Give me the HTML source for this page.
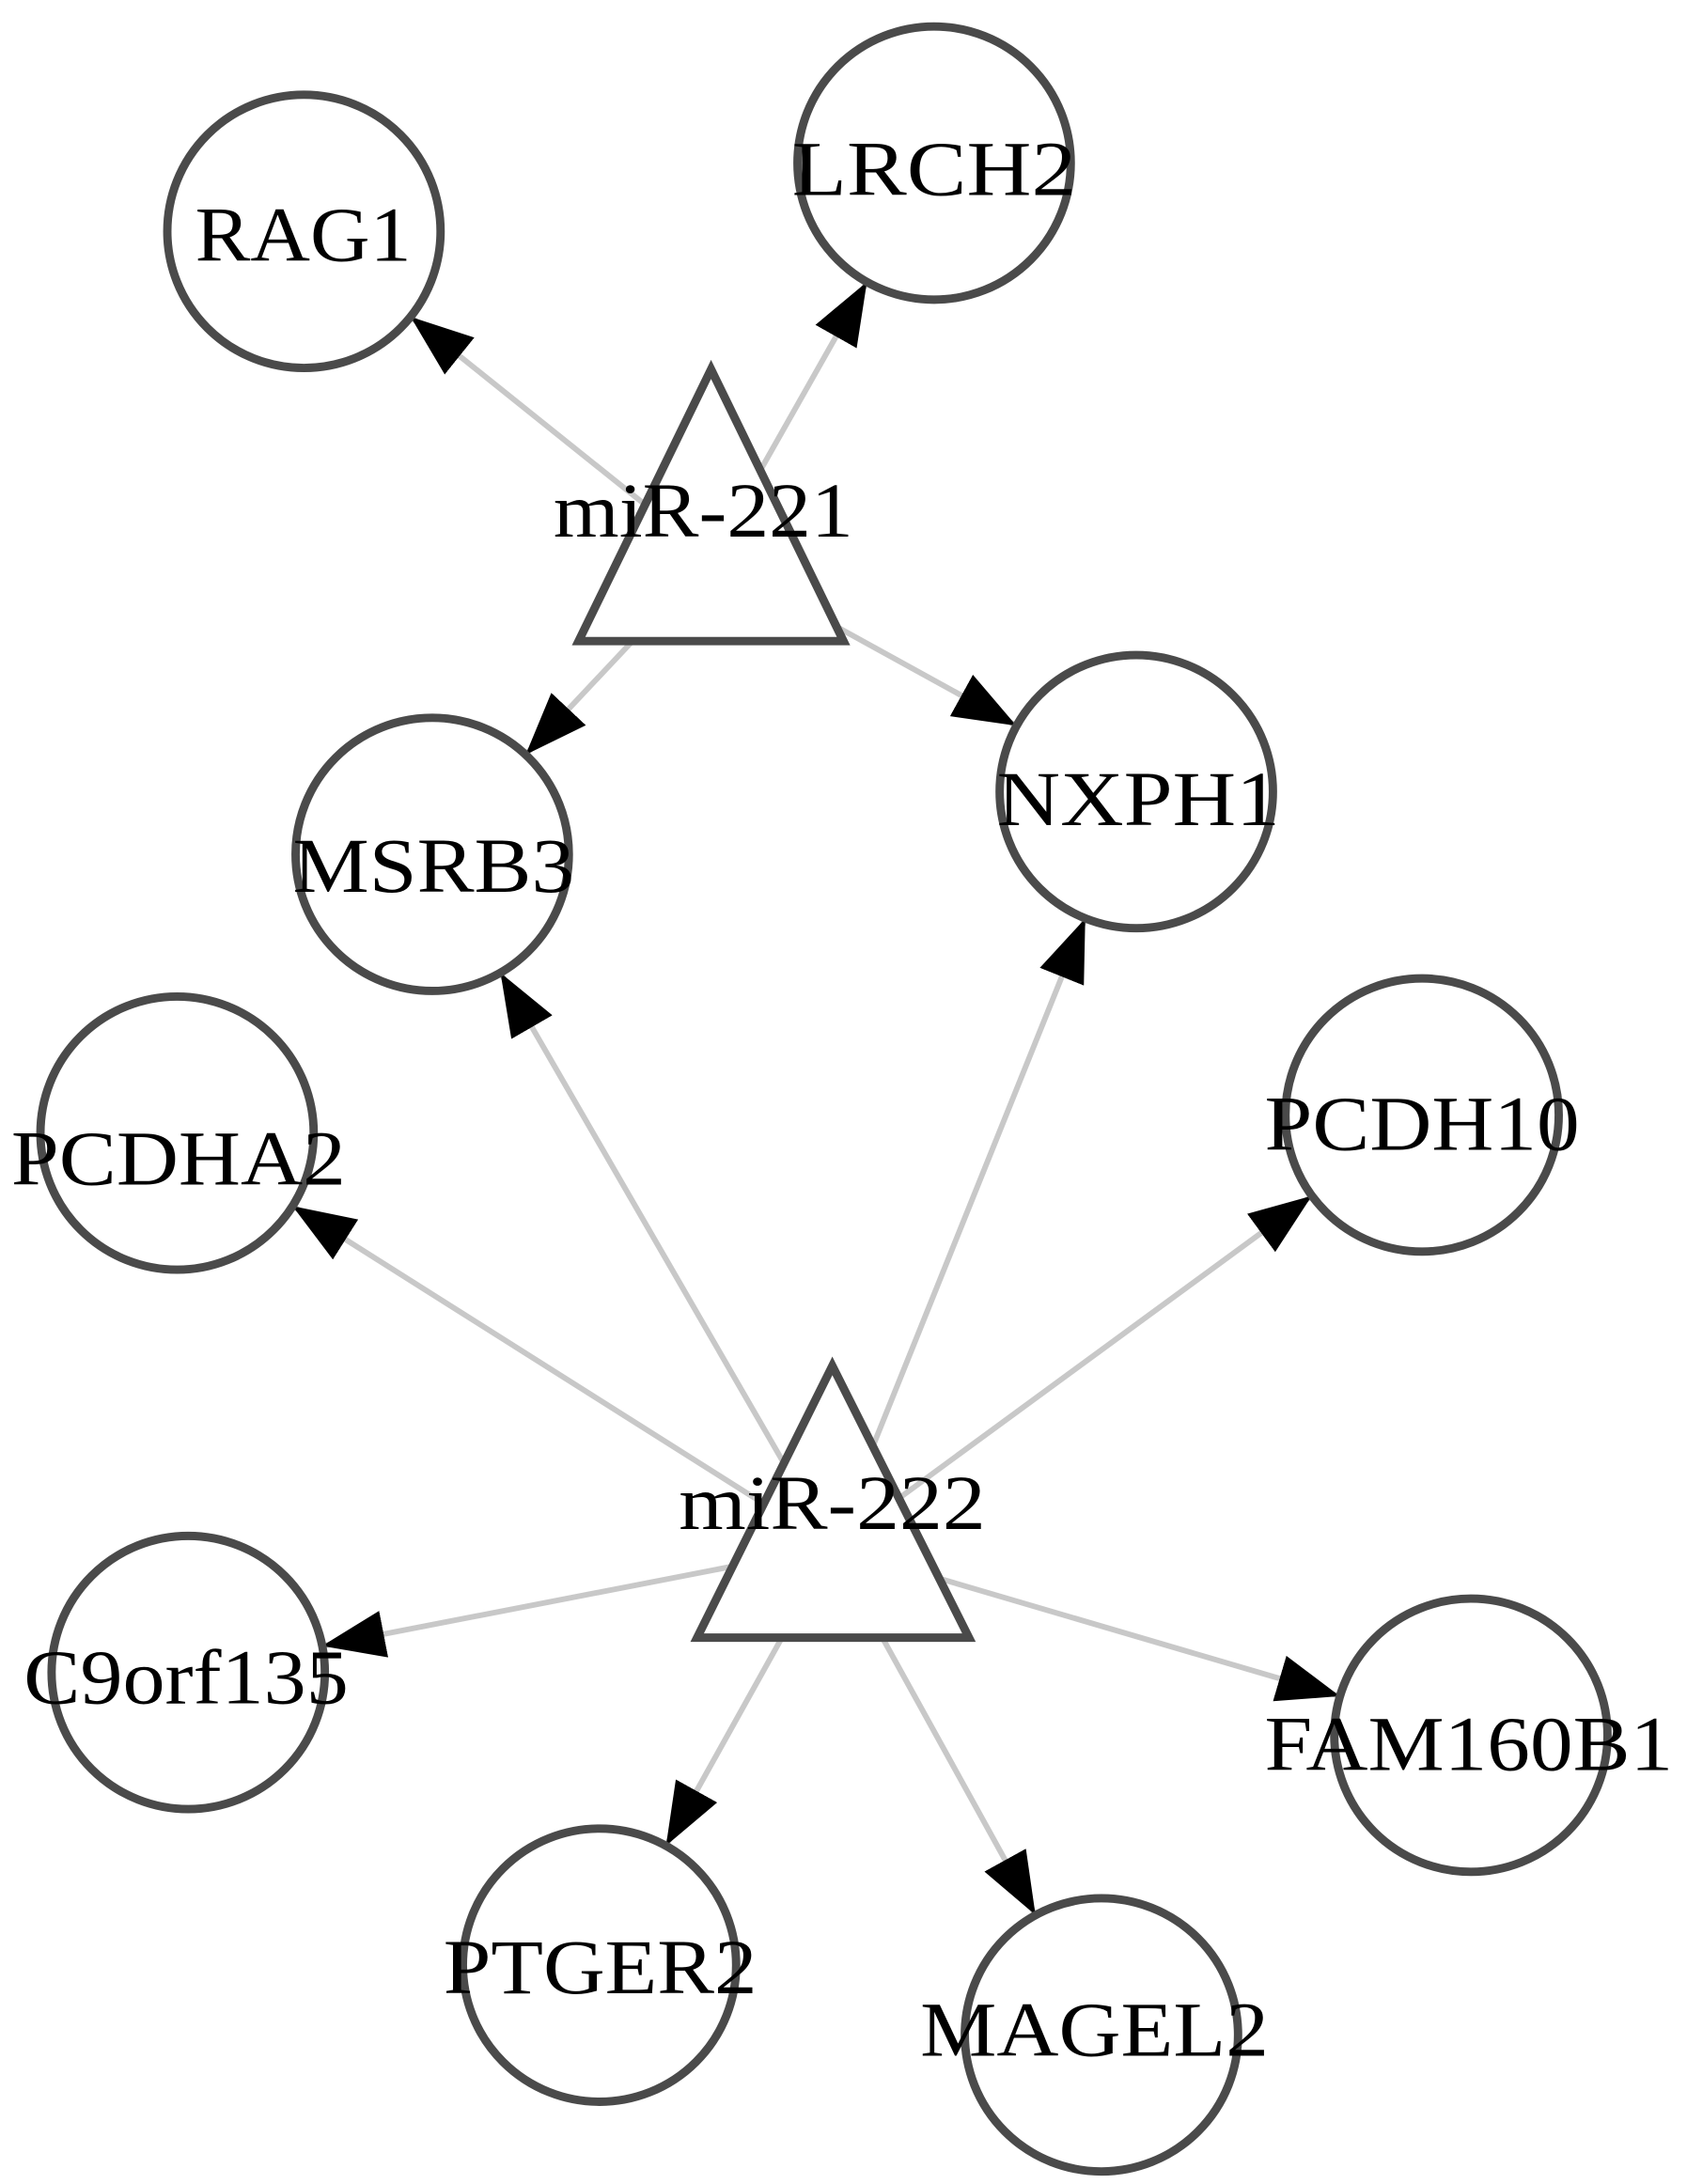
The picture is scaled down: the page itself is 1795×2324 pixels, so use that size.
<!DOCTYPE html>
<html><head><meta charset="utf-8"><style>
html,body{margin:0;padding:0;background:#fff;}
svg{display:block;}
text{font-family:"Liberation Serif",serif;font-size:56px;fill:#000;}
</style></head><body>
<svg width="1795" height="2324" viewBox="0 0 1210 1567" preserveAspectRatio="none" xmlns="http://www.w3.org/2000/svg">
<defs>
<marker id="a" markerUnits="userSpaceOnUse" markerWidth="46" markerHeight="34" refX="45" refY="17" orient="auto">
<path d="M0,0 L45,17 L0,34 z" fill="#000"/>
</marker>
</defs>
<g stroke="#c8c8c8" stroke-width="4" marker-end="url(#a)">
<line x1="510" y1="400" x2="294.5" y2="227.3"/>
<line x1="510" y1="400" x2="621.8" y2="202.3"/>
<line x1="510" y1="400" x2="377" y2="541.5"/>
<line x1="510" y1="400" x2="729" y2="520.7"/>
<line x1="597" y1="1110" x2="359" y2="698"/>
<line x1="597" y1="1110" x2="778.4" y2="659"/>
<line x1="597" y1="1110" x2="209.8" y2="865.3"/>
<line x1="597" y1="1110" x2="940.9" y2="858"/>
<line x1="597" y1="1110" x2="231" y2="1181"/>
<line x1="597" y1="1110" x2="961" y2="1217"/>
<line x1="597" y1="1110" x2="477.7" y2="1324.3"/>
<line x1="597" y1="1110" x2="742.7" y2="1374"/>
</g>
<g fill="#fff" stroke="#4a4a4a" stroke-width="6">
<polygon points="510,265 415,460 605,460"/>
<polygon points="597,980 500,1175 695,1175"/>
<circle cx="218" cy="166" r="98"/>
<circle cx="670" cy="117" r="98"/>
<circle cx="310" cy="613" r="98"/>
<circle cx="815" cy="568" r="98"/>
<circle cx="127" cy="813" r="98"/>
<circle cx="1020" cy="800" r="98"/>
<circle cx="135" cy="1200" r="98"/>
<circle cx="1055" cy="1245" r="98"/>
<circle cx="430" cy="1410" r="98"/>
<circle cx="790" cy="1460" r="98"/>
</g>
<g>
<text x="140" y="187" textLength="155" lengthAdjust="spacingAndGlyphs">RAG1</text>
<text x="568" y="140" textLength="204" lengthAdjust="spacingAndGlyphs">LRCH2</text>
<text x="397" y="385" textLength="215" lengthAdjust="spacingAndGlyphs">miR-221</text>
<text x="210" y="640" textLength="202" lengthAdjust="spacingAndGlyphs">MSRB3</text>
<text x="715" y="592" textLength="203" lengthAdjust="spacingAndGlyphs">NXPH1</text>
<text x="8" y="850" textLength="240" lengthAdjust="spacingAndGlyphs">PCDHA2</text>
<text x="907" y="825" textLength="226" lengthAdjust="spacingAndGlyphs">PCDH10</text>
<text x="487" y="1097" textLength="220" lengthAdjust="spacingAndGlyphs">miR-222</text>
<text x="17" y="1222" textLength="233" lengthAdjust="spacingAndGlyphs">C9orf135</text>
<text x="907" y="1270" textLength="293" lengthAdjust="spacingAndGlyphs">FAM160B1</text>
<text x="318" y="1430" textLength="225" lengthAdjust="spacingAndGlyphs">PTGER2</text>
<text x="660" y="1475" textLength="250" lengthAdjust="spacingAndGlyphs">MAGEL2</text>
</g>
</svg>
</body></html>
